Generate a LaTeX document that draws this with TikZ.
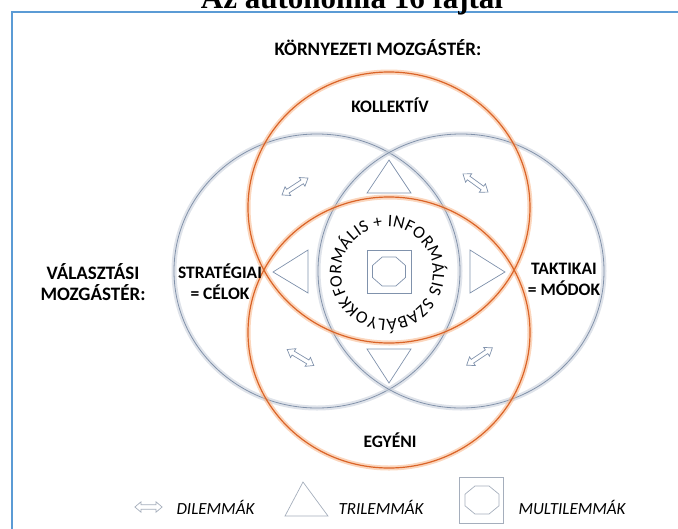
\documentclass[tikz,border=0pt]{standalone}
\usepackage{fontspec}
\setmainfont{Carlito}
\newfontfamily\titlefont{Liberation Serif}
\usetikzlibrary{decorations.text}

\definecolor{ringblue}{RGB}{130,146,170}
\definecolor{haloblue}{RGB}{196,204,216}
\definecolor{ringorange}{RGB}{218,100,40}
\definecolor{haloorange}{RGB}{247,180,135}
\definecolor{frameblue}{RGB}{91,155,213}
\definecolor{shapeblue}{RGB}{128,146,172}
\definecolor{keygrey}{RGB}{165,174,188}

% octagon: centre, half width, half height
\newcommand{\octbox}[4][lemma]{\draw[#1,shift={(#2)}] (-#3,{.414*#4}) --
  ({-.414*#3},#4) -- ({.414*#3},#4) -- (#3,{.414*#4}) -- (#3,{-.414*#4})
  -- ({.414*#3},-#4) -- ({-.414*#3},-#4) -- (-#3,{-.414*#4}) -- cycle;}
% hollow double arrow: centre, angle
\newcommand{\dilarrow}[3][]{\draw[dilemma,shift={(#2)},rotate=#3,#1]
  (-15.5,0) -- (-8.5,5.2) -- (-8.5,2.2) -- (8.5,2.2) -- (8.5,5.2) -- (15.5,0)
  -- (8.5,-5.2) -- (8.5,-2.2) -- (-8.5,-2.2) -- (-8.5,-5.2) -- cycle;}

\begin{document}
\begin{tikzpicture}[x=1pt,y=1pt,
    hdr/.style={font=\fontsize{19}{21}\selectfont\bfseries,align=center},
    lbl/.style={font=\fontsize{17.5}{21}\selectfont\bfseries,align=center},
    key/.style={font=\fontsize{17}{20}\selectfont\itshape,anchor=west},
    lemma/.style={draw=shapeblue,line width=.7pt},
    dilemma/.style={draw=shapeblue,fill=white,line width=.7pt,line join=miter}]
  \useasboundingbox (0,0) rectangle (678,-528);
  \draw[frameblue,line width=1.4pt] (12,-560) -- (12,-12) -- (700,-12);
  \node[font=\titlefont\bfseries\fontsize{31}{31}\selectfont,anchor=base]
    (title) at (352,-8) {Az autonómia 16 fajtái};
  % the four rings
  \foreach \cx in {317,461} {
    \draw[haloblue,line width=5pt,opacity=.55] (\cx,-271) ellipse [x radius=143pt,y radius=137pt];
    \draw[ringblue,line width=.8pt] (\cx,-271) ellipse [x radius=143pt,y radius=137pt];}
  \foreach \cy in {-207.5,-332.5}
    \draw[haloorange,line width=5pt,opacity=.55] (389,\cy) ellipse [x radius=141pt,y radius=135.5pt];
  \foreach \cy in {-207.5,-332.5}
    \draw[ringorange,line width=1.2pt] (389,\cy) ellipse [x radius=141pt,y radius=135.5pt];
  % texts
  \node[hdr] (env) at (378,-48) {KÖRNYEZETI MOZGÁSTÉR:};
  \node[hdr] (choice) at (93,-282) {VÁLASZTÁSI\\MOZGÁSTÉR:};
  \node[lbl] (koll) at (390,-105) {KOLLEKTÍV};
  \node[lbl] (egy) at (390,-440) {EGYÉNI};
  \node[lbl] (strat) at (220,-282) {STRATÉGIAI\\= CÉLOK};
  \node[lbl] (takt) at (564,-279) {TAKTIKAI\\= MÓDOK};
  \path[decorate,decoration={text along path,text align={fit to path},
      text={|\fontsize{17.5}{17.5}\selectfont|FORMÁLIS + INFORMÁLIS SZABÁLYOKK}}]
    (387,-273) ++(207:46) arc[start angle=207,end angle=-150,radius=46pt];
  % trilemmas and multilemma
  \draw[lemma] (389,-160) -- (411,-193) -- (367,-193) -- cycle;
  \draw[lemma] (389,-383) -- (411,-349) -- (367,-349) -- cycle;
  \draw[lemma] (273,-272) -- (308,-250) -- (308,-293) -- cycle;
  \draw[lemma] (505,-272) -- (470,-250) -- (470,-293) -- cycle;
  \draw[lemma] (367,-250) rectangle (411,-293);
  \octbox{389,-271.5}{16.5}{14.5}
  % dilemmas
  \dilarrow{295,-186.5}{33}
  \dilarrow{475.5,-183}{-36}
  \dilarrow{300.5,-357.5}{-31}
  \dilarrow{479.5,-356.5}{34}
  % legend
  \dilarrow[draw=keygrey,xscale=.88]{148.5,-507}{0}
  \node[key] (dil) at (173,-507) {DILEMMÁK};
  \draw[lemma,draw=keygrey] (303,-482) -- (328,-516) -- (285,-516) -- cycle;
  \node[key] (tril) at (335,-507) {TRILEMMÁK};
  \draw[lemma,draw=keygrey] (459,-477) rectangle (503,-523);
  \octbox[lemma,draw=keygrey]{482,-500}{17}{14}
  \node[key] (multi) at (515,-507) {MULTILEMMÁK};
\end{tikzpicture}
\end{document}
